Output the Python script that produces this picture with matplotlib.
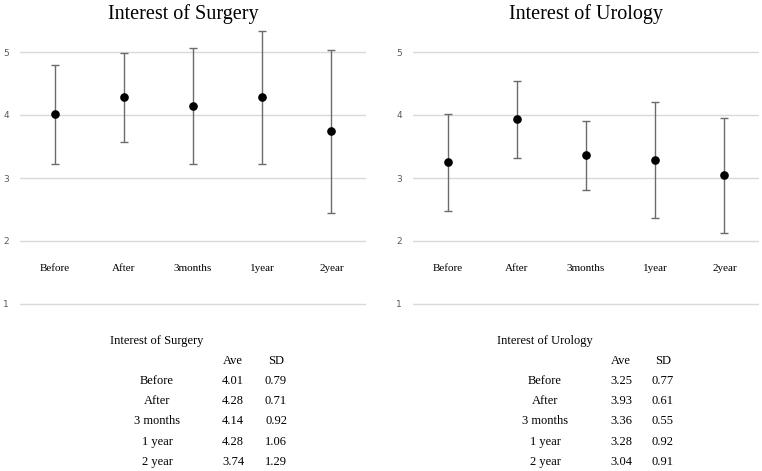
import numpy as np
import matplotlib
matplotlib.use('Agg')
import matplotlib.pyplot as plt

# data
cats = ['Before', 'After', '3months', '1year', '2year']
row_labels = ['Before', 'After', '3 months', '1 year', '2 year']
surg_ave = [4.01, 4.28, 4.14, 4.28, 3.74]
surg_sd = [0.79, 0.71, 0.92, 1.06, 1.29]
uro_ave = [3.25, 3.93, 3.36, 3.28, 3.04]
uro_sd = [0.77, 0.61, 0.55, 0.92, 0.91]
yticks = [1, 2, 3, 4, 5]

serif = ['Liberation Serif', 'DejaVu Serif']
W, H = 762, 471
fig = plt.figure(figsize=(W / 100, H / 100), dpi=100)


def px(x, y):
    return x / W, 1 - y / H


def panel(left_px, title, title_x, ave, sd):
    # y=5 at 52 px, y=1 at 304 px -> 63 px per unit
    x0, _ = px(left_px, 0)
    _, y0 = px(0, 304 + 0.05 * 63)
    _, y1 = px(0, 52 - 0.5 * 63)
    ax = fig.add_axes([x0, y0, 346 / W, y1 - y0])
    xs = np.arange(len(cats))
    ax.errorbar(xs, ave, yerr=sd, fmt='o', color='black', ms=5.2,
                ecolor='#6b6b6b', elinewidth=1, capsize=3, capthick=1, zorder=3)
    ax.set_xlim(-0.5, 4.5)
    ax.set_ylim(0.95, 5.5)
    ax.set_yticks(yticks)
    ax.yaxis.grid(True, color='#d9d9d9', linewidth=1)
    ax.set_axisbelow(True)
    for s in ax.spines.values():
        s.set_visible(False)
    ax.tick_params(axis='y', length=0, labelsize=6.5, labelcolor='#595959', pad=8)
    ax.set_xticks([])
    for i, c in enumerate(cats):
        ax.text(i, 1.57, c, ha='center', va='center', fontsize=8,
                family=serif)
    fig.text(*px(title_x, 14), title, ha='center', va='center',
             fontsize=14.5, family=serif)
    return ax


panel(20, 'Interest of Surgery', 183, surg_ave, surg_sd)
panel(413, 'Interest of Urology', 586, uro_ave, uro_sd)


def table(title, tx, lab_x, ave_x, sd_x, ave, sd):
    fs = 9
    fig.text(*px(tx, 341), title, ha='left', va='center', fontsize=fs, family=serif)
    fig.text(*px(ave_x, 361), 'Ave', ha='center', va='center', fontsize=fs, family=serif)
    fig.text(*px(sd_x, 361), 'SD', ha='center', va='center', fontsize=fs, family=serif)
    for i, lab in enumerate(row_labels):
        yy = 381 + 20.2 * i
        fig.text(*px(lab_x, yy), lab, ha='center', va='center', fontsize=fs, family=serif)
        fig.text(*px(ave_x, yy), f'{ave[i]:.2f}', ha='center', va='center', fontsize=fs, family=serif)
        fig.text(*px(sd_x, yy), f'{sd[i]:.2f}', ha='center', va='center', fontsize=fs, family=serif)


table('Interest of Surgery', 110, 157, 233, 276, surg_ave, surg_sd)
table('Interest of Urology', 497, 545, 621, 663, uro_ave, uro_sd)

fig.savefig('out.png', dpi=100)
